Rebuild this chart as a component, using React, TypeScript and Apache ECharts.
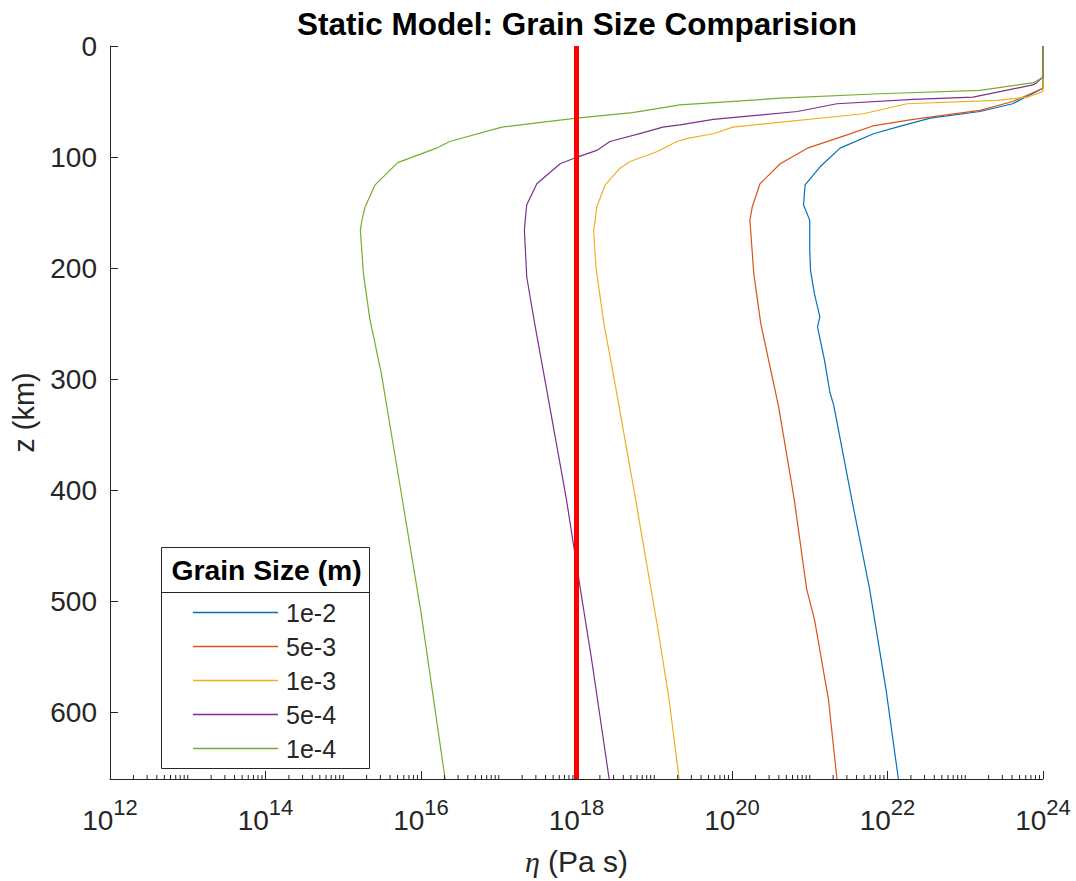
import React, { useEffect, useRef } from "react";
import * as echarts from "echarts";

const FONT = '"Liberation Sans", Arial, Helvetica, sans-serif';
const SERIF = '"Liberation Serif", "DejaVu Serif", serif';
const INK = "#262626";

const Z_MAX = 660;
const X_MIN = 1e12;
const X_MAX = 1e24;
const Y_TICK_STEP = 100;
const REFERENCE_ETA = 1e18;

const seriesNames = ["1e-2", "5e-3", "1e-3", "5e-4", "1e-4"];
const seriesColors = ["#0072BD", "#D95319", "#EDB120", "#7E2F8E", "#77AC30"];

// depth (km) and log10(viscosity, Pa s)
const blueZ = [0, 28, 38, 52, 59, 65, 73, 79, 92, 109, 125, 143, 157, 184, 202, 223, 244, 253, 283, 312, 324, 408, 489, 579, 660];
const blueLogEta = [24.0, 24.0, 24.0, 23.61, 23.19, 22.55, 22.12, 21.82, 21.39, 21.13, 20.94, 20.92, 21.0, 21.0, 21.01, 21.06, 21.13, 21.1, 21.19, 21.26, 21.31, 21.54, 21.77, 21.98, 22.14];

const orangeZ = [0, 28, 38, 50, 58, 66, 72, 80, 92, 106, 124, 145, 157, 166, 205, 250, 325, 408, 489, 516, 588, 660];
const orangeLogEta = [24.0, 24.0, 24.0, 23.61, 23.19, 22.33, 21.81, 21.48, 20.97, 20.62, 20.36, 20.26, 20.23, 20.24, 20.28, 20.37, 20.6, 20.8, 20.96, 21.06, 21.24, 21.35];

const yellowZ = [0, 28, 41, 46, 49, 52, 61, 73, 79, 83, 86, 95, 104, 110, 125, 145, 157, 166, 199, 249, 298, 408, 441, 522, 588, 660];
const yellowLogEta = [24.0, 24.0, 24.0, 23.8, 23.41, 22.25, 21.69, 20.01, 19.76, 19.44, 19.29, 19.04, 18.69, 18.56, 18.37, 18.26, 18.24, 18.22, 18.25, 18.35, 18.48, 18.76, 18.84, 19.04, 19.19, 19.32];

const purpleZ = [0, 28, 33, 35, 46, 48, 52, 59, 66, 71, 73, 78, 86, 94, 100, 106, 124, 143, 157, 166, 208, 249, 307, 408, 453, 489, 555, 660];
const purpleLogEta = [24.0, 24.0, 23.92, 23.87, 23.1, 22.33, 21.35, 20.84, 19.76, 19.33, 19.11, 18.86, 18.43, 18.26, 18.01, 17.79, 17.49, 17.36, 17.34, 17.33, 17.36, 17.46, 17.61, 17.87, 17.97, 18.05, 18.2, 18.42];

const greenZ = [0, 28, 33, 40, 43, 47, 53, 60, 65, 73, 86, 92, 105, 125, 145, 157, 166, 205, 245, 295, 400, 510, 660];
const greenLogEta = [24.0, 24.0, 23.88, 23.19, 21.9, 20.62, 19.33, 18.72, 18.0, 17.04, 16.37, 16.2, 15.7, 15.41, 15.28, 15.24, 15.22, 15.26, 15.34, 15.49, 15.74, 16.0, 16.31];

const seriesZ = [blueZ, orangeZ, yellowZ, purpleZ, greenZ];
const seriesLogEta = [blueLogEta, orangeLogEta, yellowLogEta, purpleLogEta, greenLogEta];

// minor tick positions of the logarithmic x axis (2..9 x 10^n, and odd decades)
const minorTickValues: number[] = [];
for (let d = 12; d < 24; d++) {
  for (let m = 1; m <= 9; m++) {
    if (m === 1 && d % 2 === 0) continue;
    minorTickValues.push(m * Math.pow(10, d));
  }
}

export default function App() {
  const ref = useRef<HTMLDivElement>(null);
  useEffect(() => {
    if (!ref.current) return;
    const chart = echarts.init(ref.current, undefined, { renderer: "svg" });

    const lineSeries = seriesNames.map((name, i) => ({
      name,
      type: "line",
      data: seriesZ[i].map((z, k) => [Math.pow(10, seriesLogEta[i][k]), z]),
      symbol: "none",
      showSymbol: false,
      lineStyle: { color: seriesColors[i], width: 1.2 },
      itemStyle: { color: seriesColors[i] },
      z: 2,
    }));

    const option: any = {
      animation: false,
      backgroundColor: "#ffffff",
      title: {
        text: "Static Model: Grain Size Comparision",
        left: 572,
        textAlign: "center",
        top: 3,
        textStyle: { fontFamily: FONT, fontSize: 31.5, fontWeight: "bold", color: "#000" },
      },
      grid: { left: 110, right: 33, top: 46, bottom: 101, containLabel: false },
      xAxis: {
        type: "log",
        logBase: 10,
        min: X_MIN,
        max: X_MAX,
        interval: 2,
        splitNumber: 6,
        position: "bottom",
        name: "{i|η} (Pa s)",
        nameLocation: "middle",
        nameGap: 67,
        nameTextStyle: {
          fontFamily: FONT,
          fontSize: 30,
          color: INK,
          rich: { i: { fontFamily: SERIF, fontStyle: "italic", fontSize: 30, color: INK } },
        },
        axisLine: { onZero: false, lineStyle: { color: INK, width: 1 } },
        axisTick: { inside: true, length: 8, interval: 0, lineStyle: { color: INK, width: 1 } },
        splitLine: { show: false },
        axisLabel: {
          margin: 17,
          interval: 0,
          hideOverlap: false,
          formatter: (v: number) => `{b|10}{s|${Math.round(Math.log10(v))}}`,
          rich: {
            b: { fontFamily: FONT, fontSize: 28, color: INK, verticalAlign: "bottom", lineHeight: 38 },
            s: { fontFamily: FONT, fontSize: 22, color: INK, verticalAlign: "top", lineHeight: 22 },
          },
        },
      },
      yAxis: {
        type: "value",
        inverse: true,
        min: 0,
        max: Z_MAX,
        interval: Y_TICK_STEP,
        name: "z (km)",
        nameLocation: "middle",
        nameGap: 72,
        nameTextStyle: { fontFamily: FONT, fontSize: 29, color: INK },
        axisLine: { show: true, lineStyle: { color: INK, width: 1 } },
        axisTick: { inside: true, length: 8, lineStyle: { color: INK, width: 1 } },
        splitLine: { show: false },
        axisLabel: { margin: 13, fontFamily: FONT, fontSize: 28, color: INK, showMaxLabel: false },
      },
      legend: {
        data: seriesNames,
        orient: "vertical",
        left: 193,
        top: 600,
        padding: 0,
        itemWidth: 85,
        itemHeight: 1.5,
        itemGap: 9,
        icon: "rect",
        textStyle: { fontFamily: FONT, fontSize: 25, color: INK, lineHeight: 25, padding: [0, 0, 0, 3] },
        z: 10,
      },
      graphic: [
        {
          type: "rect",
          z: 5,
          shape: { x: 161.5, y: 547.5, width: 208, height: 221 },
          style: { fill: "#ffffff", stroke: INK, lineWidth: 1 },
        },
        {
          type: "line",
          z: 6,
          shape: { x1: 161.5, y1: 592.5, x2: 369.5, y2: 592.5 },
          style: { stroke: INK, lineWidth: 1 },
        },
        {
          type: "text",
          z: 6,
          x: 266.5,
          y: 570,
          style: {
            text: "Grain Size (m)",
            align: "center",
            verticalAlign: "middle",
            fontFamily: FONT,
            fontSize: 28.3,
            fontWeight: "bold",
            fill: "#000",
          },
        },
      ],
      series: [
        ...lineSeries,
        {
          name: "reference",
          type: "line",
          data: [
            [REFERENCE_ETA, 0],
            [REFERENCE_ETA, Z_MAX],
          ],
          symbol: "none",
          showSymbol: false,
          lineStyle: { color: "#FF0000", width: 5 },
          z: 3,
        },
        {
          name: "minorTicks",
          type: "custom",
          silent: true,
          clip: false,
          data: minorTickValues.map((v) => [v, Z_MAX]),
          renderItem: (params: any, api: any) => {
            const p = api.coord([api.value(0), api.value(1)]);
            return {
              type: "line",
              shape: { x1: p[0], y1: p[1], x2: p[0], y2: p[1] - 4 },
              style: { stroke: INK, lineWidth: 1 },
            };
          },
          z: 4,
        },
      ],
    };
    chart.setOption(option);
    return () => chart.dispose();
  }, []);
  return (
    <div
      ref={ref}
      style={{ position: "absolute", left: 0, top: 0, width: 1076, height: 881, background: "#fff" }}
    />
  );
}
